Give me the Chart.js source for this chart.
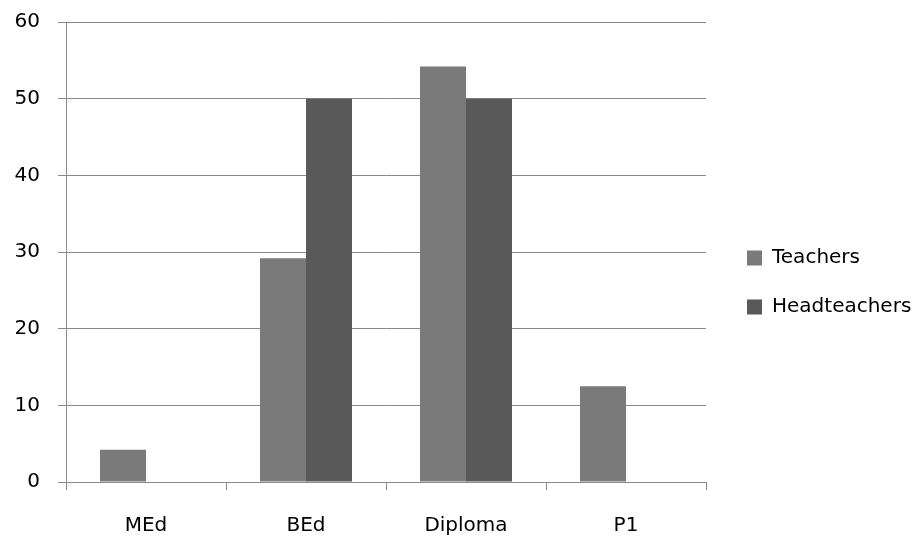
<!DOCTYPE html>
<html>
<head>
<meta charset="utf-8">
<script src="https://cdn.jsdelivr.net/npm/chart.js@4/dist/chart.umd.min.js"></script>
<style>
  html, body { margin: 0; padding: 0; background: #fff; }
  #wrap { width: 920px; height: 537px; }
</style>
</head>
<body>
<div id="wrap"><canvas id="chart" width="920" height="537"></canvas></div>
<script>
const categories = ['MEd', 'BEd', 'Diploma', 'P1']
const teachers = [4.2, 29.2, 54.2, 12.5]
const headteachers = [0, 50, 50, 0]
const yTicks = [0, 10, 20, 30, 40, 50, 60]

const gridColor = '#898989'
const font = { family: 'DejaVu Sans', size: 20 }

// keep the plot's right edge fixed where the legend starts
const legendWidth = {
    id: 'legendWidth',
    beforeInit(chart) {
        const legend = chart.legend
        const fit = legend.fit.bind(legend)
        legend.fit = function () {
            fit()
            this.width = 214
        }
    },
    afterLayout(chart) {
        chart.legend.left += 12
        chart.legend.top += 3
        chart.legend.bottom += 3
    }
}

const ctx = document.getElementById('chart').getContext('2d')
new Chart(ctx, {
    type: 'bar',
    data: {
        labels: categories,
        datasets: [
            { label: 'Teachers', data: teachers, backgroundColor: '#7a7a7a' },
            { label: 'Headteachers', data: headteachers, backgroundColor: '#595959' }
        ]
    },
    options: {
        responsive: false,
        animation: false,
        layout: { padding: { top: 22, left: 0, right: 0, bottom: 0 } },
        datasets: {
            bar: { categoryPercentage: 0.575, barPercentage: 1 }
        },
        scales: {
            x: {
                grid: {
                    offset: true,
                    drawOnChartArea: false,
                    drawTicks: true,
                    tickLength: 8,
                    color: gridColor
                },
                border: { color: gridColor, width: 1 },
                ticks: { font, color: '#000', padding: 24 },
                afterFit(scale) { scale.height = 55 }
            },
            y: {
                min: 0,
                max: 60,
                afterBuildTicks(scale) {
                    scale.ticks = yTicks.map(v => ({ value: v }))
                },
                grid: { color: gridColor, tickLength: 8 },
                border: { color: gridColor, width: 1 },
                ticks: { font, color: '#000', padding: 18 },
                afterFit(scale) {
                    scale.width = 66
                    scale.paddingTop = 0
                    scale.paddingBottom = 0
                }
            }
        },
        plugins: {
            legend: {
                position: 'right',
                labels: {
                    font,
                    color: '#000',
                    boxWidth: 15,
                    boxHeight: 15,
                    padding: 29
                }
            },
            tooltip: { enabled: false }
        }
    },
    plugins: [legendWidth]
})
</script>
</body>
</html>
